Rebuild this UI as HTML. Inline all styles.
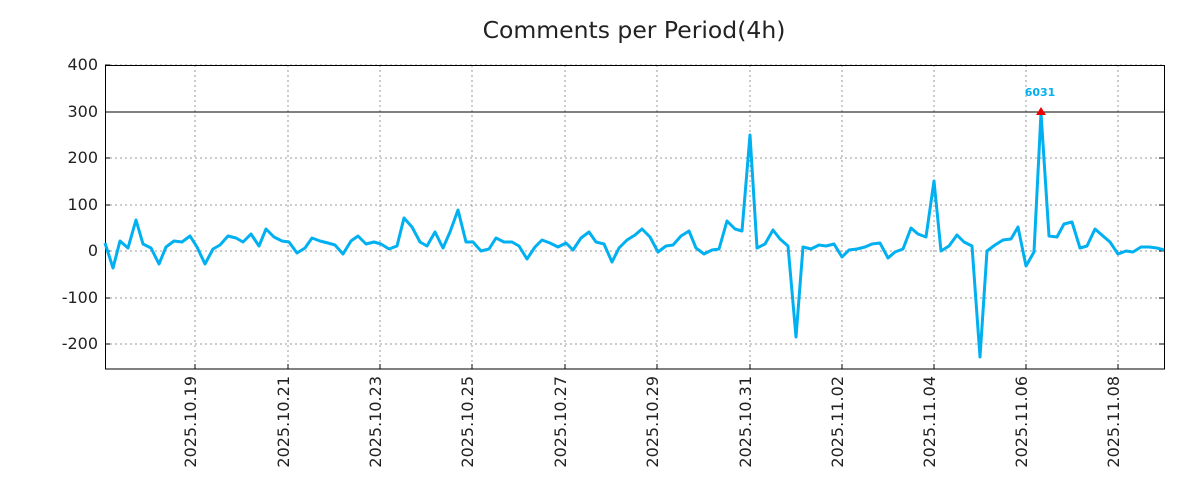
<!DOCTYPE html>
<html><head><meta charset="utf-8"><style>body{margin:0;background:#fff}svg{display:block}text{font-family:"DejaVu Sans","Liberation Sans",sans-serif}</style></head>
<body>
<svg width="1200" height="500" viewBox="0 0 1200 500" xmlns="http://www.w3.org/2000/svg">
<rect width="1200" height="500" fill="#fff"/>
<text x="634" y="38" font-size="23.5" text-anchor="middle" fill="#222">Comments per Period(4h)</text>
<g stroke="#999" stroke-dasharray="2,3" stroke-width="1">
<line x1="105" x2="1164" y1="65" y2="65"/><line x1="105" x2="1164" y1="158" y2="158"/><line x1="105" x2="1164" y1="205" y2="205"/><line x1="105" x2="1164" y1="251" y2="251"/><line x1="105" x2="1164" y1="298" y2="298"/><line x1="105" x2="1164" y1="344" y2="344"/>
<line x1="195" x2="195" y1="65" y2="369"/><line x1="288" x2="288" y1="65" y2="369"/><line x1="380" x2="380" y1="65" y2="369"/><line x1="472" x2="472" y1="65" y2="369"/><line x1="565" x2="565" y1="65" y2="369"/><line x1="657" x2="657" y1="65" y2="369"/><line x1="750" x2="750" y1="65" y2="369"/><line x1="842" x2="842" y1="65" y2="369"/><line x1="934" x2="934" y1="65" y2="369"/><line x1="1026" x2="1026" y1="65" y2="369"/><line x1="1118" x2="1118" y1="65" y2="369"/>
</g>
<line x1="105" x2="1164" y1="112" y2="112" stroke="#000" stroke-width="1"/>
<rect x="105.5" y="65.5" width="1059" height="303.5" fill="none" stroke="#000" stroke-width="1"/>
<g stroke="#000" stroke-width="1">
<line x1="105" x2="110" y1="65" y2="65"/><line x1="105" x2="110" y1="112" y2="112"/><line x1="105" x2="110" y1="158" y2="158"/><line x1="105" x2="110" y1="205" y2="205"/><line x1="105" x2="110" y1="251" y2="251"/><line x1="105" x2="110" y1="298" y2="298"/><line x1="105" x2="110" y1="344" y2="344"/>
<line x1="1159" x2="1164" y1="158" y2="158"/><line x1="1159" x2="1164" y1="205" y2="205"/><line x1="1159" x2="1164" y1="251" y2="251"/><line x1="1159" x2="1164" y1="298" y2="298"/><line x1="1159" x2="1164" y1="344" y2="344"/>
<line x1="195" x2="195" y1="364" y2="369"/><line x1="288" x2="288" y1="364" y2="369"/><line x1="380" x2="380" y1="364" y2="369"/><line x1="472" x2="472" y1="364" y2="369"/><line x1="565" x2="565" y1="364" y2="369"/><line x1="657" x2="657" y1="364" y2="369"/><line x1="750" x2="750" y1="364" y2="369"/><line x1="842" x2="842" y1="364" y2="369"/><line x1="934" x2="934" y1="364" y2="369"/><line x1="1026" x2="1026" y1="364" y2="369"/><line x1="1118" x2="1118" y1="364" y2="369"/>
</g>
<g font-size="16" fill="#222" text-anchor="end">
<text x="98" y="70">400</text><text x="98" y="117">300</text><text x="98" y="163">200</text><text x="98" y="210">100</text><text x="98" y="256">0</text><text x="98" y="303">-100</text><text x="98" y="349">-200</text>
</g>
<g font-size="16" fill="#222" text-anchor="end">
<text transform="translate(201,376) rotate(-90)" dy="-5">2025.10.19</text>
<text transform="translate(294,376) rotate(-90)" dy="-5">2025.10.21</text>
<text transform="translate(386,376) rotate(-90)" dy="-5">2025.10.23</text>
<text transform="translate(478,376) rotate(-90)" dy="-5">2025.10.25</text>
<text transform="translate(571,376) rotate(-90)" dy="-5">2025.10.27</text>
<text transform="translate(663,376) rotate(-90)" dy="-5">2025.10.29</text>
<text transform="translate(756,376) rotate(-90)" dy="-5">2025.10.31</text>
<text transform="translate(848,376) rotate(-90)" dy="-5">2025.11.02</text>
<text transform="translate(940,376) rotate(-90)" dy="-5">2025.11.04</text>
<text transform="translate(1032,376) rotate(-90)" dy="-5">2025.11.06</text>
<text transform="translate(1124,376) rotate(-90)" dy="-5">2025.11.08</text>
</g>
<polyline fill="none" stroke="#00b0f0" stroke-width="3" stroke-linejoin="round" points="105,243 113,268 120,241 128,248 136,220 143,244 151,248 159,264 166,247 174,241 182,242 190,236 197,247 205,264 213,249 220,245 228,236 236,238 243,242 251,234 259,246 266,229 274,237 282,241 289,242 297,253 305,248 312,238 320,241 328,243 335,245 343,254 351,241 358,236 366,244 374,242 381,244 389,249 397,246 404,218 412,227 420,242 427,246 435,232 443,248 450,232 458,210 466,242 473,242 481,251 489,249 496,238 504,242 512,242 519,246 527,259 535,247 542,240 550,243 558,247 566,243 573,250 581,238 589,232 596,242 604,244 612,262 619,248 627,240 635,235 642,229 650,237 658,252 666,246 673,245 681,236 689,231 696,248 704,254 712,250 719,249 727,221 735,229 742,231 750,135 757,248 765,244 773,230 780,239 788,246 796,337 803,247 811,249 819,245 826,246 834,244 842,257 849,250 857,249 865,247 872,244 880,243 888,258 895,252 903,249 911,228 918,234 926,237 934,181 941,251 949,246 957,235 964,242 972,246 980,357 987,251 995,245 1003,240 1011,239 1018,227 1026,266 1034,252 1041,113 1049,236 1057,237 1064,224 1072,222 1080,248 1087,246 1095,229 1103,236 1110,242 1118,254 1126,251 1133,252 1141,247 1149,247 1157,248 1164,250"/>
<polygon points="1036,115 1046,115 1041,107" fill="#e00"/>
<text x="1040" y="96" font-size="11" font-weight="bold" fill="#00b0f0" text-anchor="middle" font-family="Liberation Mono, monospace">6031</text>
</svg>
</body></html>
